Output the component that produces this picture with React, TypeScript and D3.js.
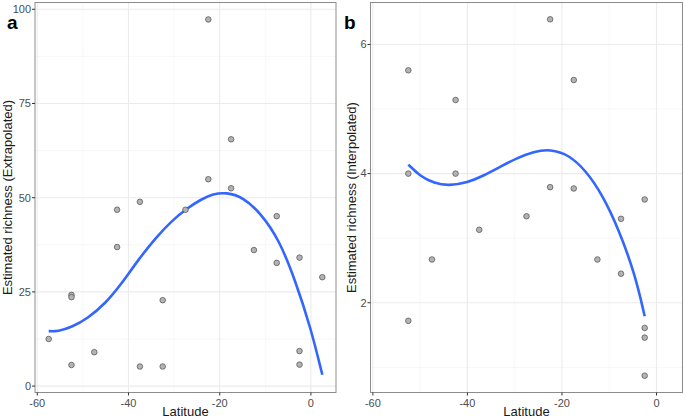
import React from "react";
import * as d3 from "d3";

// Panel a: Estimated richness (Extrapolated)
const latA = [-22.5, -17.5, -22.5, -17.5, -37.5, -42.5, -27.5, -7.5, -42.5, -12.5, -7.5, -2.5, 2.5, -52.5, -52.5, -32.5, -57.5, -47.5, -52.5, -37.5, -32.5, -2.5, -2.5];
const richA = [97.3, 65.5, 54.9, 52.5, 48.9, 46.8, 46.8, 45.1, 36.9, 36.1, 32.7, 34.1, 28.9, 24.2, 23.6, 22.8, 12.5, 9.0, 5.6, 5.2, 5.2, 9.3, 5.7];
// Smoothed trend
const fitLatA = [-57.5, -55.5, -52.5, -49, -45, -41.5, -38, -34, -30.5, -27, -24, -21.5, -18.5, -15, -11, -7, -3.5, 0, 2.5];
const fitA = [14.6, 14.5, 15.6, 17.9, 22.0, 27.2, 33.3, 39.4, 43.9, 47.3, 49.6, 51.0, 51.4, 50.2, 45.9, 38.9, 28.3, 15.3, 3.0];

// Panel b: Estimated richness (Interpolated)
const latB = [-22.5, -52.5, -17.5, -42.5, -52.5, -42.5, -22.5, -17.5, -2.5, -27.5, -7.5, -37.5, -47.5, -12.5, -7.5, -52.5, -2.5, -2.5, -2.5];
const richB = [6.39, 5.6, 5.45, 5.14, 4.0, 4.0, 3.79, 3.77, 3.6, 3.34, 3.3, 3.13, 2.67, 2.67, 2.45, 1.72, 1.61, 1.46, 0.87];
const fitLatB = [-52.5, -50, -47, -44, -40, -36.5, -33, -29.5, -26, -22.5, -18.5, -15, -11.5, -8, -4.5, -2.5];
const fitB = [4.14, 3.96, 3.85, 3.81, 3.86, 3.97, 4.11, 4.24, 4.34, 4.38, 4.29, 4.05, 3.68, 3.14, 2.43, 1.79];

const xTicks = [-60, -40, -20, 0];
const xMinor = [-50, -30, -10];
const yTicksA = [0, 25, 50, 75, 100];
const yMinorA = [12.5, 37.5, 62.5, 87.5];
const yTicksB = [2, 4, 6];
const yMinorB = [1, 3, 5];

type PanelProps = {
  left: number;
  right: number;
  xs: number[];
  ys: number[];
  fx: number[];
  fy: number[];
  yDomain: [number, number];
  yTicks: number[];
  yMinor: number[];
  yTitle: string;
  tag: string;
  tagX: number;
  titleX: number;
};

const top = 2.5;
const bottom = 392.5;
const xDomain: [number, number] = [-60.5, 5.5];

function Panel(p: PanelProps) {
  const x = d3.scaleLinear().domain(xDomain).range([p.left, p.right]);
  const y = d3.scaleLinear().domain(p.yDomain).range([bottom, top]);
  const fit = p.fx.map((g, i) => [g, p.fy[i]] as [number, number]);
  const line = d3
    .line<[number, number]>()
    .x((d) => x(d[0]))
    .y((d) => y(d[1]))
    .curve(d3.curveBasis);
  const midX = (p.left + p.right) / 2;
  const midY = (top + bottom) / 2;
  return (
    <g>
      <rect x={p.left} y={top} width={p.right - p.left} height={bottom - top} fill="#fff" />
      {p.yMinor.map((v) => (
        <line key={"ym" + v} x1={p.left} x2={p.right} y1={y(v)} y2={y(v)} stroke="#f2f2f2" strokeWidth={0.6} />
      ))}
      {xMinor.map((v) => (
        <line key={"xm" + v} x1={x(v)} x2={x(v)} y1={top} y2={bottom} stroke="#f2f2f2" strokeWidth={0.6} />
      ))}
      {p.yTicks.map((v) => (
        <line key={"yg" + v} x1={p.left} x2={p.right} y1={y(v)} y2={y(v)} stroke="#ebebeb" strokeWidth={1.1} />
      ))}
      {xTicks.map((v) => (
        <line key={"xg" + v} x1={x(v)} x2={x(v)} y1={top} y2={bottom} stroke="#ebebeb" strokeWidth={1.1} />
      ))}
      <path d={line(fit) || ""} fill="none" stroke="#3366FF" strokeWidth={2.6} />
      {p.xs.map((v, i) => (
        <circle key={i} cx={x(v)} cy={y(p.ys[i])} r={2.8} fill="#b3b3b3" stroke="#4d4d4d" strokeWidth={0.7} />
      ))}
      <rect x={p.left} y={top} width={p.right - p.left} height={bottom - top} fill="none" stroke="#8c8c8c" strokeWidth={1} />
      {p.yTicks.map((v) => (
        <g key={"yt" + v}>
          <line x1={p.left - 3} x2={p.left} y1={y(v)} y2={y(v)} stroke="#333" strokeWidth={1} />
          <text x={p.left - 4} y={y(v)} dy="0.35em" textAnchor="end" fontSize={11} fill="#4d4d4d">
            {v}
          </text>
        </g>
      ))}
      {xTicks.map((v) => (
        <g key={"xt" + v}>
          <line x1={x(v)} x2={x(v)} y1={bottom} y2={bottom + 3} stroke="#333" strokeWidth={1} />
          <text x={x(v)} y={bottom + 14} textAnchor="middle" fontSize={11} fill="#4d4d4d">
            {v}
          </text>
        </g>
      ))}
      <text x={midX} y={416} textAnchor="middle" fontSize={13} fill="#1a1a1a">
        Latitude
      </text>
      <text
        transform={`translate(${p.titleX},${midY}) rotate(-90)`}
        textAnchor="middle"
        fontSize={13}
        fill="#1a1a1a"
      >
        {p.yTitle}
      </text>
      <text x={p.tagX} y={29} fontSize={19} fontWeight="bold" fill="#000">
        {p.tag}
      </text>
    </g>
  );
}

export default function App() {
  return (
    <svg
      width={685}
      height={420}
      style={{ position: "absolute", left: 0, top: 0, fontFamily: "Liberation Sans, Arial, sans-serif", background: "#fff" }}
    >
      <Panel
        left={35}
        right={336}
        xs={latA}
        ys={richA}
        fx={fitLatA}
        fy={fitA}
        yDomain={[-1.7, 101.8]}
        yTicks={yTicksA}
        yMinor={yMinorA}
        yTitle="Estimated richness (Extrapolated)"
        tag="a"
        tagX={7}
        titleX={12}
      />
      <Panel
        left={370.5}
        right={682.5}
        xs={latB}
        ys={richB}
        fx={fitLatB}
        fy={fitB}
        yDomain={[0.61, 6.65]}
        yTicks={yTicksB}
        yMinor={yMinorB}
        yTitle="Estimated richness (Interpolated)"
        tag="b"
        tagX={344}
        titleX={356}
      />
    </svg>
  );
}
